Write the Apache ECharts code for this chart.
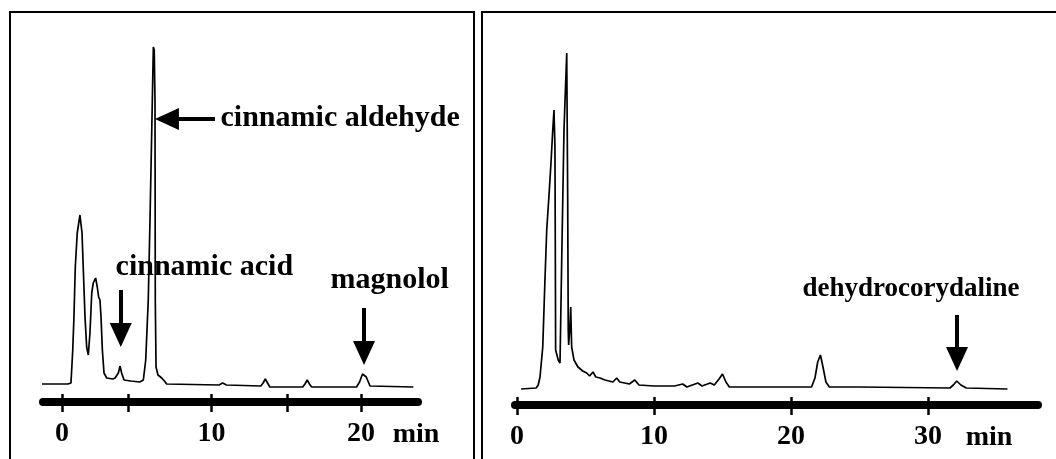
<!DOCTYPE html>
<html>
<head>
<meta charset="utf-8">
<script src="https://cdn.jsdelivr.net/npm/echarts@6/dist/echarts.min.js"></script>
<style>
html, body { margin: 0; padding: 0; background: #ffffff; }
#chart { width: 1056px; height: 459px; }
</style>
</head>
<body>
<div id="chart"></div>
<script>
// ---- Left chromatogram (retention time in min, detector response in arbitrary units)
const leftTime = [-1.54, 0.4, 0.6, 0.72, 0.8, 0.89, 1.02, 1.2, 1.34, 1.42, 1.54, 1.65, 1.76,
  1.87, 1.99, 2.09, 2.25, 2.36, 2.45, 2.54, 2.61, 2.7, 2.81, 2.99, 3.4, 3.55, 3.77, 3.88, 3.99, 4.15,
  4.6, 5.2, 5.44, 5.6, 5.77, 5.89, 6.0, 6.11, 6.17, 6.22, 6.24, 6.29, 6.42, 6.67, 6.85, 7.0,
  10.5, 10.75, 11.0, 13.3, 13.45, 13.6, 13.75, 13.9, 16.1, 16.25, 16.4, 16.55, 16.7,
  19.7, 19.9, 20.1, 20.2, 20.35, 20.6, 23.5];
const leftSignal = [6, 6, 7, 40, 73, 123, 157, 175, 157, 123, 73, 43, 35,
  57, 97, 107, 112, 103, 93, 90, 73, 40, 17, 12, 11, 12, 17, 24, 17, 10,
  9, 8, 10, 30, 90, 173, 257, 343, 340, 290, 90, 23, 15, 12, 9, 6,
  5, 7, 5, 4, 7, 11, 7, 3, 3, 6, 10, 6, 3,
  3, 8, 16, 17, 13, 4, 3];

// ---- Right chromatogram
const rightTime = [0.3, 1.4, 1.55, 1.68, 1.88, 2.04, 2.17, 2.36, 2.48, 2.61, 2.7, 2.77, 2.8, 2.82,
  3.01, 3.14, 3.26, 3.43, 3.63, 3.7, 3.74, 3.77, 3.85, 3.92, 3.99, 4.16, 4.45, 4.8, 5.09, 5.3,
  5.55, 5.75, 6.06, 6.42, 7.0, 7.28, 7.5, 8.2, 8.6, 8.9, 10.0, 11.5, 12.1, 12.4, 13.2, 13.5,
  14.1, 14.4, 14.75, 15.0, 15.25, 15.5, 19.0, 21.5, 21.75, 21.95, 22.15, 22.35, 22.55, 22.8,
  25.0, 31.6, 31.85, 32.1, 32.4, 32.8, 35.8];
const rightSignal = [1, 2, 5, 13, 43, 110, 160, 200, 227, 260, 280, 243, 127, 40,
  30, 27, 127, 260, 337, 193, 60, 45, 60, 83, 43, 30, 23, 19, 17, 14,
  18, 13, 12, 10, 8, 12, 8, 6, 10, 5, 4, 4, 6, 3, 7, 4,
  7, 5, 11, 16, 8, 3, 3, 3, 12, 28, 35, 22, 8, 3,
  3, 2, 5, 9, 5, 2, 1];

// ---- Axis ticks and labels (min)
const leftTicks = [0, 4.4, 10, 15.05, 20];
const leftLabels = [0, 10, 20];
const rightTicks = [0, 10, 20, 30];
const rightLabels = [0, 10, 20, 30];
const axisUnit = 'min';

// ---- Peak annotations: [name, text anchor time, text anchor level]
const leftNames = ['cinnamic aldehyde', 'cinnamic acid', 'magnolol'];
const leftNameTime = [10.57, 3.55, 17.93];
const leftNameLevel = [272, 123, 110];
// arrows: start [time, level] -> end [time, level]
const leftArrowFrom = [[10.23, 271], [3.93, 100], [20.2, 82]];
const leftArrowTo = [[7.02, 271], [3.93, 55], [20.2, 37]];

const rightNames = ['dehydrocorydaline'];
const rightNameTime = [20.8];
const rightNameLevel = [101];
const rightArrowFrom = [[32.12, 75]];
const rightArrowTo = [[32.12, 31]];

const FONT = "'Liberation Serif', 'Times New Roman', serif";

function pairs(xs, ys) { return xs.map((x, i) => [x, ys[i]]); }

function arrows(from, to) {
  return from.map((f, i) => [
    { coord: f, symbol: 'none' },
    { coord: to[i], symbol: 'triangle', symbolSize: [22, 24] }
  ]);
}
function texts(names, ts, vs, size) {
  return names.map((n, i) => ({
    name: n, coord: [ts[i], vs[i]],
    label: { fontSize: size }
  }));
}

function xAxes(grid, min, max, ticks, labels, nameGap) {
  return [
    {
      gridIndex: grid, type: 'value', min: min, max: max, position: 'bottom',
      axisLine: { show: true, onZero: false, lineStyle: { color: '#000', width: 8 } },
      axisTick: { show: true, inside: false, length: 10, customValues: ticks,
        lineStyle: { color: '#000', width: 2.5 } },
      axisLabel: { show: true, customValues: labels, margin: 18, color: '#000',
        fontFamily: FONT, fontWeight: 'bold', fontSize: 28 },
      splitLine: { show: false },
      name: axisUnit, nameLocation: 'end', nameGap: nameGap,
      nameTextStyle: { color: '#000', fontFamily: FONT, fontWeight: 'bold', fontSize: 28,
        align: 'center', verticalAlign: 'top', padding: [19, 0, 0, 0] }
    },
    {
      gridIndex: grid, type: 'value', min: min, max: max, position: 'bottom',
      axisLine: { show: false, onZero: false },
      axisTick: { show: true, inside: true, length: 8, customValues: ticks,
        lineStyle: { color: '#000', width: 2.5 } },
      axisLabel: { show: false },
      splitLine: { show: false }
    }
  ];
}

function traceSeries(xIdx, yIdx, data, arrowData, textData) {
  return {
    type: 'line', xAxisIndex: xIdx, yAxisIndex: yIdx, data: data,
    showSymbol: false, symbol: 'none', silent: true,
    lineStyle: { color: '#000', width: 1.7 },
    markLine: {
      silent: true, animation: false,
      lineStyle: { type: 'solid', color: '#000', width: 4 },
      itemStyle: { color: '#000' },
      label: { show: false },
      emphasis: { disabled: true },
      data: arrowData
    },
    markPoint: {
      silent: true, animation: false,
      symbol: 'circle', symbolSize: 1,
      itemStyle: { color: 'rgba(0,0,0,0)' },
      label: { show: true, position: 'right', distance: 0, formatter: '{b}',
        color: '#000', fontFamily: FONT, fontWeight: 'bold' },
      data: textData
    }
  };
}

const chart = echarts.init(document.getElementById('chart'), null, { renderer: 'canvas' });
chart.setOption({
  animation: false,
  backgroundColor: '#ffffff',
  graphic: [
    { type: 'rect', silent: true, shape: { x: 10, y: 12, width: 464, height: 470 },
      style: { fill: 'none', stroke: '#000', lineWidth: 2 } },
    { type: 'rect', silent: true, shape: { x: 482, y: 12, width: 620, height: 470 },
      style: { fill: 'none', stroke: '#000', lineWidth: 2 } }
  ],
  grid: [
    { left: 43, top: 40, width: 375, height: 362 },
    { left: 515, top: 40, width: 523, height: 365 }
  ],
  xAxis: [].concat(
    xAxes(0, -1.27, 23.81, leftTicks, leftLabels, -2),
    xAxes(1, -0.146, 38.03, rightTicks, rightLabels, -49)
  ),
  yAxis: [
    { gridIndex: 0, type: 'value', min: -12, max: 350, show: false, splitLine: { show: false } },
    { gridIndex: 1, type: 'value', min: -15, max: 350, show: false, splitLine: { show: false } }
  ],
  series: [
    traceSeries(0, 0, pairs(leftTime, leftSignal), arrows(leftArrowFrom, leftArrowTo),
      texts(leftNames, leftNameTime, leftNameLevel, 30)),
    traceSeries(2, 1, pairs(rightTime, rightSignal), arrows(rightArrowFrom, rightArrowTo),
      texts(rightNames, rightNameTime, rightNameLevel, 27))
  ]
});
</script>
</body>
</html>
